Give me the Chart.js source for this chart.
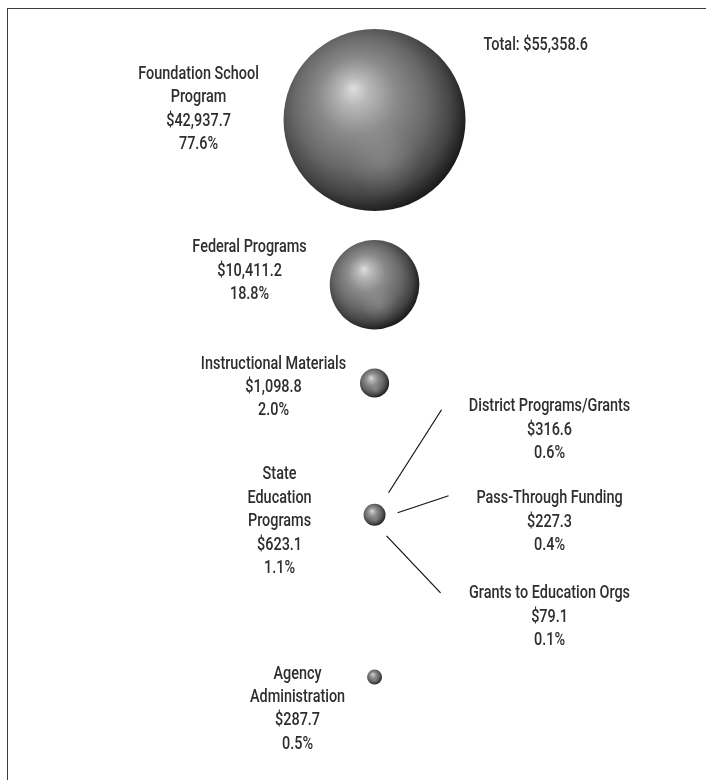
<!DOCTYPE html>
<html>
<head>
<meta charset="utf-8">
<script src="https://cdn.jsdelivr.net/npm/chart.js@4.4.0/dist/chart.umd.min.js"></script>
<style>
  html, body { margin: 0; padding: 0; background: #fff; }
  #wrap { position: relative; width: 706px; height: 780px; }
  #frame { position: absolute; left: 7px; top: 8px; right: 0; bottom: 0;
           border-left: 1px solid #3c3c3c; border-top: 1px solid #3c3c3c; pointer-events: none; }
</style>
</head>
<body>
<div id="wrap">
  <canvas id="myChart"></canvas>
  <div id="frame"></div>
</div>
<script>
// budget items, in millions
var categories = [["Foundation School", "Program"], ["Federal Programs"], ["Instructional Materials"], ["State", "Education", "Programs"], ["Agency", "Administration"]];
var amounts = [42937.7, 10411.2, 1098.8, 623.1, 287.7];
var rowPos = [15.4, 36.5, 49.1, 66.0, 86.8];
var subCategories = ["District Programs/Grants", "Pass-Through Funding", "Grants to Education Orgs"];
var subAmounts = [316.6, 227.3, 79.1];
var total = 55358.6;

var maxRadius = 91;
var fontCss = '500 18.5px Roboto, "Liberation Sans", sans-serif';
var squeeze = 0.78;
var lineGap = 23.4;
var textColor = '#2e2e2e';

// label anchors relative to each sphere (first line centre)
var labelOffsets = [[-176, -46], [-125, -37], [-101, -19], [-95, -40], [-77, -3]];
var subOffsets = [[175, -108], [175, -16], [175, 79]];
var leaders = [[14, -22, 67, -105], [23, -2, 74, -19], [12, 21, 66, 78]];

function money(v) {
  return '$' + v.toLocaleString('en-US', { minimumFractionDigits: 1, maximumFractionDigits: 1 });
}
function pct(v) {
  return (v / total * 100).toFixed(1) + '%';
}

function sphereFill(c) {
  var chart = c.chart;
  if (!chart.chartArea || !c.raw) return '#777';
  var x = chart.scales.x.getPixelForValue(c.raw.x);
  var y = chart.scales.y.getPixelForValue(c.raw.y);
  var r = c.raw.r;
  var g = chart.ctx.createRadialGradient(x - 0.24 * r, y - 0.35 * r, 0, x - 0.1 * r, y - 0.1 * r, r * 1.12);
  g.addColorStop(0, '#dedede');
  g.addColorStop(0.14, '#b8b8b8');
  g.addColorStop(0.38, '#8a8a8a');
  g.addColorStop(0.66, '#686868');
  g.addColorStop(0.86, '#444');
  g.addColorStop(1, '#1c1c1c');
  return g;
}

// condensed text: draw narrow by squeezing horizontally
function text(ctx, t, x, y) {
  ctx.save();
  ctx.translate(x, y);
  ctx.scale(squeeze, 1);
  ctx.fillText(t, 0, 0);
  ctx.restore();
}

function drawLines(ctx, lines, x, y) {
  lines.forEach(function(t, k) {
    text(ctx, t, x, y + k * lineGap);
  });
}

var labelPlugin = {
  id: 'sphereLabels',
  afterDatasetsDraw: function(chart) {
    var ctx = chart.ctx;
    var pts = chart.getDatasetMeta(0).data;
    ctx.save();

    // soft reflection in the lower half of each sphere
    pts.forEach(function(pt) {
      var r = pt.options.radius;
      var cx = pt.x + 0.1 * r, cy = pt.y + 0.45 * r;
      var g = ctx.createRadialGradient(cx, cy, 0, cx, cy, 0.4 * r);
      g.addColorStop(0, 'rgba(255,255,255,0.13)');
      g.addColorStop(1, 'rgba(255,255,255,0)');
      ctx.fillStyle = g;
      ctx.beginPath();
      ctx.arc(pt.x, pt.y, r, 0, Math.PI * 2);
      ctx.fill();
    });

    ctx.font = fontCss;
    ctx.fillStyle = textColor;
    ctx.textAlign = 'center';
    ctx.textBaseline = 'middle';
    pts.forEach(function(pt, i) {
      var lines = categories[i].concat([money(amounts[i]), pct(amounts[i])]);
      drawLines(ctx, lines, pt.x + labelOffsets[i][0], pt.y + labelOffsets[i][1]);
    });

    // breakdown of state education programs
    var s = pts[3];
    ctx.strokeStyle = '#111';
    ctx.lineWidth = 1.2;
    subCategories.forEach(function(name, j) {
      drawLines(ctx, [name, money(subAmounts[j]), pct(subAmounts[j])], s.x + subOffsets[j][0], s.y + subOffsets[j][1]);
      var l = leaders[j];
      ctx.beginPath();
      ctx.moveTo(s.x + l[0], s.y + l[1]);
      ctx.lineTo(s.x + l[2], s.y + l[3]);
      ctx.stroke();
    });

    ctx.textAlign = 'left';
    text(ctx, 'Total: ' + money(total), pts[0].x + 109, pts[0].y - 75);
    ctx.restore();
  }
};

var bubbles = amounts.map(function(v, i) {
  return { x: 0, y: rowPos[i], r: maxRadius * Math.sqrt(v / amounts[0]) };
});

new Chart("myChart", {
  type: "bubble",
  data: {
    datasets: [{
      data: bubbles,
      backgroundColor: sphereFill,
      borderWidth: 0,
      clip: false,
    }],
  },
  options: {
    responsive: true,
    maintainAspectRatio: false,
    animation: false,
    events: [],
    layout: { padding: 0, autoPadding: false },
    plugins: {
      legend: { display: false },
      tooltip: { enabled: false },
    },
    scales: {
      x: { display: false, min: -1.13, max: 1 },
      y: { display: false, min: 0, max: 100, reverse: true },
    },
  },
  plugins: [labelPlugin],
});
</script>
</body>
</html>
